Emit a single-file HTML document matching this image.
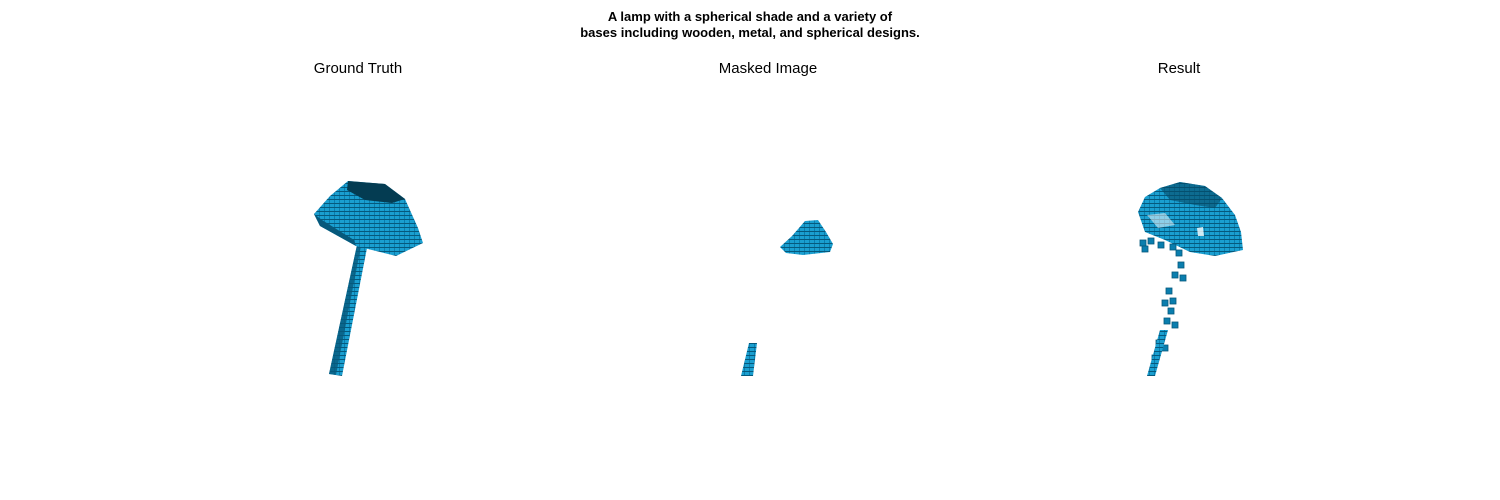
<!DOCTYPE html>
<html><head><meta charset="utf-8"><style>
html,body{margin:0;padding:0;background:#fff;}
svg{display:block;font-family:"Liberation Sans","DejaVu Sans",sans-serif;}
</style></head><body>
<svg width="1500" height="500" viewBox="0 0 1500 500">
<defs>
<pattern id="vox" width="5" height="4" patternUnits="userSpaceOnUse">
<rect width="5" height="4" fill="#0a7eae"/>
<rect x="0" y="0" width="4" height="3" fill="#1a9fd0"/>
<rect x="0" y="3" width="5" height="1" fill="#06597c"/>
</pattern>
</defs>
<g font-weight="bold" font-size="13" text-anchor="middle">
<text x="750" y="21">A lamp with a spherical shade and a variety of</text>
<text x="750" y="37">bases including wooden, metal, and spherical designs.</text>
</g>
<text x="358" y="73" font-size="15" text-anchor="middle">Ground Truth</text>
<text x="768" y="73" font-size="15" text-anchor="middle">Masked Image</text>
<text x="1179" y="73" font-size="15" text-anchor="middle">Result</text>

<g>
<polygon points="357,245 367,248 342,376 329,374" fill="url(#vox)"/>
<polygon points="357,245 361,246 336,375 329,374" fill="#06597c" opacity="0.8"/>
<polygon points="348,181 385,184 405,199 418,228 423,243 396,256 356,246 320,226 314,214 330,196" fill="url(#vox)"/>
<polygon points="348,181 385,184 405,199 392,203 365,200 347,190" fill="#043c52"/>
<polygon points="314,214 320,226 356,246 354,240 322,220" fill="#06597c"/>
</g>

<g>
<polygon points="805,221 818,220 826,232 833,244 830,252 803,255 786,253 780,247 792,236" fill="url(#vox)"/>
<polygon points="749,343 757,343 753,376 741,376" fill="url(#vox)"/>
</g>

<g>
<polygon points="1160,188 1180,182 1205,186 1222,198 1235,215 1241,232 1243,250 1215,256 1190,252 1165,240 1145,232 1138,212 1145,197" fill="url(#vox)"/>
<polygon points="1160,188 1180,182 1205,186 1222,198 1215,208 1195,205 1170,200" fill="#054a66" opacity="0.6"/>
<polygon points="1147,215 1165,213 1175,225 1158,228" fill="#fff" opacity="0.5"/>
<polygon points="1197,228 1203,227 1204,236 1198,236" fill="#fff" opacity="0.8"/>
<g fill="#0a7eae" stroke="#06597c" stroke-width="0.8">
<rect x="1140" y="240" width="6" height="6"/>
<rect x="1148" y="238" width="6" height="6"/>
<rect x="1142" y="246" width="6" height="6"/>
<rect x="1158" y="242" width="6" height="6"/>
<rect x="1170" y="244" width="6" height="6"/>
<rect x="1176" y="250" width="6" height="6"/>
<rect x="1178" y="262" width="6" height="6"/>
<rect x="1172" y="272" width="6" height="6"/>
<rect x="1180" y="275" width="6" height="6"/>
<rect x="1166" y="288" width="6" height="6"/>
<rect x="1162" y="300" width="6" height="6"/>
<rect x="1170" y="298" width="6" height="6"/>
<rect x="1168" y="308" width="6" height="6"/>
<rect x="1164" y="318" width="6" height="6"/>
<rect x="1172" y="322" width="6" height="6"/>
<rect x="1156" y="340" width="6" height="6"/>
<rect x="1162" y="345" width="6" height="6"/>
<rect x="1152" y="355" width="6" height="6"/>
</g>
<polygon points="1160,330 1168,330 1155,376 1147,376" fill="url(#vox)"/>
</g>
</svg>
</body></html>
